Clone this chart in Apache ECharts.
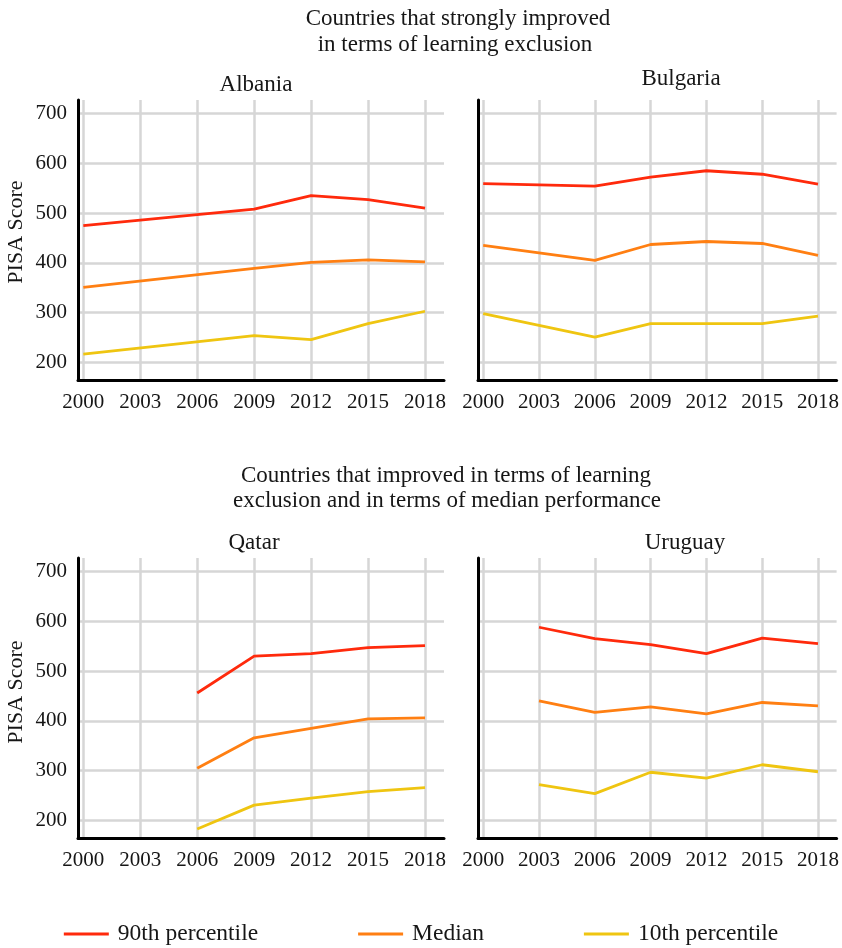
<!DOCTYPE html>
<html>
<head>
<meta charset="utf-8">
<script src="https://cdn.jsdelivr.net/npm/echarts@6/dist/echarts.min.js"></script>
<style>
  html, body { margin: 0; padding: 0; background: #fff; }
  #chart-main { width: 842px; height: 948px; }
</style>
</head>
<body>
<div id="chart-main"></div>
<script>
// PISA score distribution by year
const years = [2000, 2003, 2006, 2009, 2012, 2015, 2018];
const yTicks = [200, 300, 400, 500, 600, 700];

const albania90 = [475, null, null, 508, 535, 527, 510];
const albaniaMed = [351, null, null, 389, 401, 406, 402];
const albania10 = [217, null, null, 254, 246, 278, 303];

const bulgaria90 = [559, null, 554, 572, 585, 578, 558];
const bulgariaMed = [435, null, 405, 437, 443, 439, 415];
const bulgaria10 = [298, null, 251, 278, 278, 278, 293];

const qatar90 = [null, null, 456, 530, 535, 547, 551];
const qatarMed = [null, null, 305, 366, 385, 404, 406];
const qatar10 = [null, null, 183, 231, 245, 258, 266];

const uruguay90 = [null, 588, 565, 553, 535, 566, 555];
const uruguayMed = [null, 440, 417, 428, 414, 437, 430];
const uruguay10 = [null, 272, 254, 297, 285, 312, 298];

const seriesNames = ['90th percentile', 'Median', '10th percentile'];
const colors = ['#ff2a0c', '#ff7f12', '#efc511'];

const panels = [
  { name: 'Albania', data: [albania90, albaniaMed, albania10] },
  { name: 'Bulgaria', data: [bulgaria90, bulgariaMed, bulgaria10] },
  { name: 'Qatar', data: [qatar90, qatarMed, qatar10] },
  { name: 'Uruguay', data: [uruguay90, uruguayMed, uruguay10] }
];

const font = '"Liberation Serif", "DejaVu Serif", serif';
const textColor = '#161616';

const grids = [
  { left: 78, top: 100, width: 366, height: 280 },
  { left: 478, top: 100, width: 364, height: 280 },
  { left: 78, top: 558, width: 366, height: 280 },
  { left: 478, top: 558, width: 364, height: 280 }
];

function pairs(vals) {
  const out = [];
  vals.forEach((v, i) => {
    if (v !== null) out.push([years[i], v]);
  });
  return out;
}

const xAxes = grids.map((g, i) => ({
  type: 'value',
  gridIndex: i,
  min: 1999.72,
  max: 2019,
  axisLine: { show: true, onZero: false, lineStyle: { color: '#000', width: 3 } },
  axisTick: { show: false, customValues: years },
  axisLabel: {
    customValues: years,
    formatter: v => String(v),
    fontFamily: font,
    fontSize: 21,
    color: textColor,
    margin: 12
  },
  splitLine: { show: true, lineStyle: { color: '#d6d6d6', width: 2.5 } }
}));

const yAxes = grids.map((g, i) => ({
  type: 'value',
  gridIndex: i,
  min: 165,
  max: 727,
  axisLine: { show: true, onZero: false, lineStyle: { color: '#000', width: 3 } },
  axisTick: { show: false, customValues: yTicks },
  axisLabel: {
    show: i % 2 === 0,
    customValues: yTicks,
    fontFamily: font,
    fontSize: 21,
    color: textColor,
    margin: 11
  },
  splitLine: { show: true, lineStyle: { color: '#d6d6d6', width: 2.5 } }
}));

const series = [];
panels.forEach((p, i) => {
  p.data.forEach((vals, k) => {
    series.push({
      name: seriesNames[k],
      type: 'line',
      xAxisIndex: i,
      yAxisIndex: i,
      data: pairs(vals),
      symbol: 'none',
      lineStyle: { color: colors[k], width: 2.8 },
      itemStyle: { color: colors[k] },
      z: 3
    });
  });
});

function label(text, x, y, size, rotation) {
  return {
    type: 'text',
    x: x,
    y: y,
    rotation: rotation || 0,
    style: {
      text: text,
      fontFamily: font,
      fontSize: size,
      fill: textColor,
      align: 'center',
      verticalAlign: 'middle'
    }
  };
}

let myChart = echarts.init(document.getElementById('chart-main'));
let option = {
  animation: false,
  backgroundColor: '#fff',
  grid: grids,
  xAxis: xAxes,
  yAxis: yAxes,
  series: series,
  legend: {
    data: seriesNames,
    top: 917,
    left: 'center',
    icon: 'rect',
    itemWidth: 45,
    itemHeight: 3,
    itemGap: 100,
    textStyle: { fontFamily: font, fontSize: 23.5, color: textColor, padding: [0, 0, 0, 4] }
  },
  graphic: [
    label('Countries that strongly improved', 458, 19, 23),
    label('in terms of learning exclusion', 455, 45, 23),
    label('Albania', 256, 85, 23),
    label('Bulgaria', 681, 79, 23),
    label('PISA Score', 16, 232, 22, Math.PI / 2),
    label('Countries that improved in terms of learning', 446, 476, 23),
    label('exclusion and in terms of median performance', 447, 501, 23),
    label('Qatar', 254, 543, 23),
    label('Uruguay', 685, 543, 23),
    label('PISA Score', 16, 692, 22, Math.PI / 2)
  ]
};
myChart.setOption(option);
</script>
</body>
</html>
